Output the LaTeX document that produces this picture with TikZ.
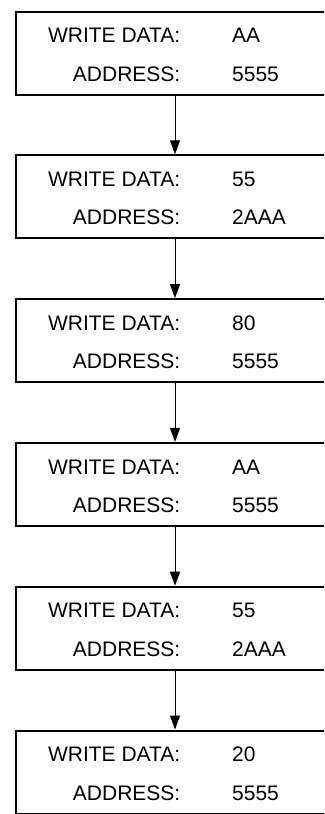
\documentclass[tikz,border=0pt]{standalone}
\usepackage{fontspec}
\setmainfont{Liberation Sans}
\usetikzlibrary{arrows.meta}
\begin{document}
\begin{tikzpicture}[x=1pt,y=1pt,
  stepbox/.style={draw=black,line width=2pt,minimum width=319pt,minimum height=83pt,inner sep=0pt},
  lbl/.style={anchor=base east,inner sep=0pt,font=\fontsize{21pt}{25pt}\selectfont},
  val/.style={anchor=base west,inner sep=0pt,font=\fontsize{21pt}{25pt}\selectfont},
  flow/.style={line width=1pt,-{Triangle[length=14pt,width=10pt]}}]
\useasboundingbox (0,0) rectangle (324,-814);
\clip (0,0) rectangle (324,-814);
\foreach \k/\d/\a in {1/AA/5555,2/55/2AAA,3/80/5555,4/AA/5555,5/55/2AAA,6/20/5555}{
  \pgfmathsetmacro{\cy}{-(53+143.8*(\k-1))}
  \node[stepbox] (b\k) at (175,\cy) {};
  \node[lbl] (l\k a) at (180.5,\cy+10.3) {WRITE DATA:};
  \node[lbl] (l\k b) at (180.5,\cy-28) {ADDRESS:};
  \node[val] (v\k a) at (232,\cy+10.3) {\d};
  \node[val] (v\k b) at (232,\cy-28) {\a};
}
\foreach \i/\j in {1/2,2/3,3/4,4/5,5/6}{
  \draw[flow] (b\i.south) -- (b\j.north);
}
\end{tikzpicture}
\end{document}
